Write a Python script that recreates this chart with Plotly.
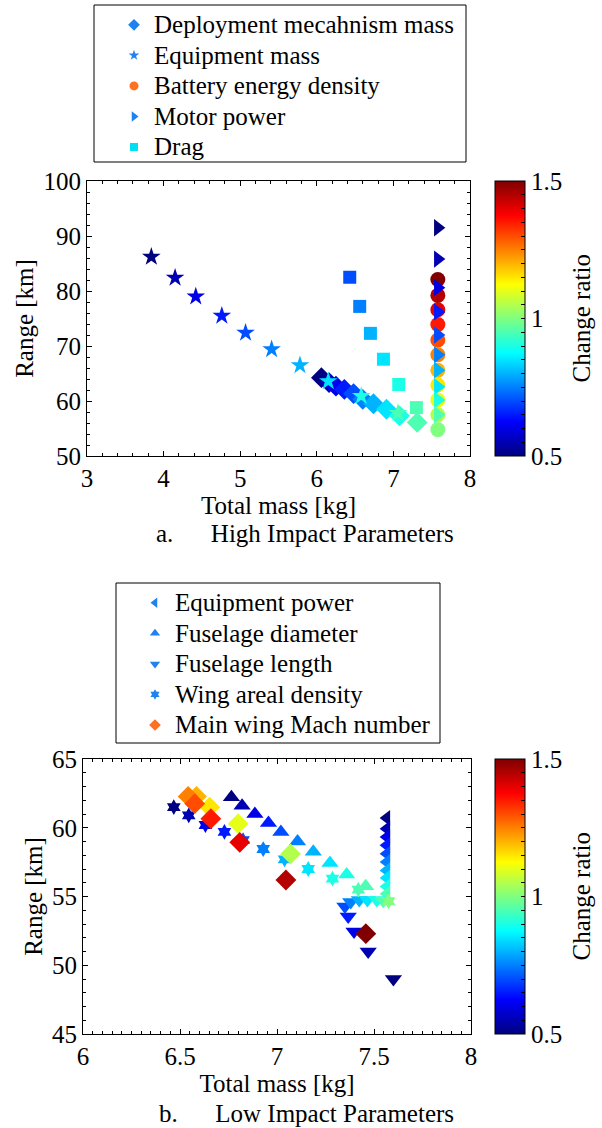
import plotly.graph_objects as go

W, H = 602, 1128
FONT = "Liberation Serif, Times New Roman, serif"

# ---------------- Data: a. High Impact Parameters ----------------
deploy_ratio = [0.5, 0.55, 0.6, 0.65, 0.7, 0.75, 0.8, 0.85, 0.9, 0.95]
deploy_mass = [6.06, 6.16, 6.25, 6.36, 6.48, 6.60, 6.74, 6.91, 7.08, 7.31]
deploy_range = [64.25, 63.35, 62.7, 62.1, 61.35, 60.3, 59.5, 58.5, 57.3, 56.1]

equip_ratio = [0.5, 0.55, 0.6, 0.65, 0.7, 0.75, 0.8, 0.85, 0.9, 0.95]
equip_mass = [3.84, 4.15, 4.42, 4.76, 5.07, 5.41, 5.78, 6.15, 6.58, 7.06]
equip_range = [86.2, 82.4, 79.0, 75.5, 72.4, 69.4, 66.5, 63.6, 60.9, 57.8]

battery_ratio = [1.0, 1.05, 1.1, 1.15, 1.2, 1.25, 1.3, 1.35, 1.4, 1.45, 1.5]
battery_mass = [7.58] * 11
battery_range = [54.8, 57.5, 60.2, 62.9, 65.6, 68.4, 71.1, 73.9, 76.6, 79.2, 82.1]

motor_ratio = [0.5, 0.55, 0.6, 0.65, 0.7, 0.75, 0.8, 0.85, 0.9, 0.95]
motor_mass = [7.58] * 10
motor_range = [91.5, 85.8, 80.6, 76.2, 72.0, 68.4, 65.6, 62.6, 60.2, 57.5]

drag_ratio = [0.7, 0.75, 0.8, 0.85, 0.9, 0.95]
drag_mass = [6.43, 6.56, 6.70, 6.87, 7.07, 7.30]
drag_range = [82.5, 77.2, 72.3, 67.6, 63.0, 58.8]

high_labels = ["Deployment mecahnism mass", "Equipment mass", "Battery energy density",
               "Motor power", "Drag"]

# ---------------- Data: b. Low Impact Parameters ----------------
eqpow_ratio = [0.5, 0.55, 0.6, 0.65, 0.7, 0.75, 0.8, 0.85, 0.9, 0.95]
eqpow_mass = [7.565] * 10
eqpow_range = [60.71, 59.93, 59.33, 58.72, 58.11, 57.51, 56.9, 56.35, 55.73, 55.2]

fdiam_ratio = [0.5, 0.55, 0.6, 0.65, 0.7, 0.75, 0.8, 0.85, 0.9, 0.95]
fdiam_mass = [6.765, 6.82, 6.886, 6.956, 7.02, 7.106, 7.187, 7.273, 7.359, 7.457]
fdiam_range = [62.21, 61.6, 61.0, 60.35, 59.7, 59.0, 58.26, 57.44, 56.6, 55.74]

flen_ratio = [0.5, 0.55, 0.6, 0.65, 0.7, 0.75, 0.8, 0.85, 0.9, 0.95]
flen_mass = [7.60, 7.47, 7.397, 7.367, 7.35, 7.38, 7.424, 7.466, 7.514, 7.548]
flen_range = [49.0, 51.0, 52.46, 53.55, 54.28, 54.6, 54.75, 54.75, 54.75, 54.7]

wing_ratio = [0.5, 0.55, 0.6, 0.65, 0.7, 0.75, 0.8, 0.85, 0.9, 0.95, 1.0]
wing_mass = [6.468, 6.545, 6.631, 6.729, 6.825, 6.929, 7.039, 7.161, 7.286, 7.419, 7.575]
wing_range = [61.5, 60.9, 60.2, 59.7, 59.1, 58.45, 57.7, 57.0, 56.3, 55.5, 54.65]

mach_ratio = [1.05, 1.1, 1.15, 1.2, 1.25, 1.3, 1.35, 1.4, 1.45, 1.5]
mach_mass = [7.07, 6.80, 6.653, 6.585, 6.542, 6.576, 6.659, 6.808, 7.046, 7.458]
mach_range = [58.1, 60.3, 61.5, 62.28, 62.28, 61.75, 60.66, 58.94, 56.2, 52.3]

low_labels = ["Equipment power", "Fuselage diameter", "Fuselage length",
              "Wing areal density", "Main wing Mach number"]

# colorbar tick labels
cb_tickvals = [0.5 + 0.05 * i for i in range(21)]
cb_ticktext = ["0.5" if i == 0 else "1" if i == 10 else "1.5" if i == 20 else "" for i in range(21)]

JET = [[0, "rgb(0,0,128)"], [0.125, "rgb(0,0,255)"], [0.375, "rgb(0,255,255)"],
       [0.625, "rgb(255,255,0)"], [0.875, "rgb(255,0,0)"], [1, "rgb(128,0,0)"]]

LEG_BLUE = "#1E82F0"
LEG_ORANGE = "#FF7020"
LEG_CYAN = "#00E0F0"

fig = go.Figure()


def add_series(x, y, c, symbol, size, xa, ya, cax):
    fig.add_trace(go.Scatter(
        x=x, y=y, mode="markers", showlegend=False, xaxis=xa, yaxis=ya,
        marker=dict(symbol=symbol, size=size, color=c, coloraxis=cax, line=dict(width=0)),
    ))


def add_legend_entry(name, symbol, color, legend, xa, ya, size=9):
    fig.add_trace(go.Scatter(
        x=[None], y=[None], mode="markers",
        name="<span style='font-size:25px'>" + name + "</span>",
        legend=legend, xaxis=xa, yaxis=ya,
        marker=dict(symbol=symbol, size=size, color=color, line=dict(width=0)),
    ))


# top plot series
add_series(deploy_mass, deploy_range, deploy_ratio, "diamond", 16, "x", "y", "coloraxis")
add_series(equip_mass, equip_range, equip_ratio, "star", 14, "x", "y", "coloraxis")
add_series(battery_mass, battery_range, battery_ratio, "circle", 15, "x", "y", "coloraxis")
add_series(motor_mass, motor_range, motor_ratio, "triangle-right", 15, "x", "y", "coloraxis")
add_series(drag_mass, drag_range, drag_ratio, "square", 13, "x", "y", "coloraxis")

add_legend_entry(high_labels[0], "diamond", LEG_BLUE, "legend", "x", "y")
add_legend_entry(high_labels[1], "star", LEG_BLUE, "legend", "x", "y", 8)
add_legend_entry(high_labels[2], "circle", LEG_ORANGE, "legend", "x", "y")
add_legend_entry(high_labels[3], "triangle-right", LEG_BLUE, "legend", "x", "y")
add_legend_entry(high_labels[4], "square", LEG_CYAN, "legend", "x", "y", 8)

# bottom plot series
add_series(eqpow_mass, eqpow_range, eqpow_ratio, "triangle-left", 14, "x2", "y2", "coloraxis2")
add_series(fdiam_mass, fdiam_range, fdiam_ratio, "triangle-up", 15, "x2", "y2", "coloraxis2")
add_series(flen_mass, flen_range, flen_ratio, "triangle-down", 15, "x2", "y2", "coloraxis2")
add_series(wing_mass, wing_range, wing_ratio, "hexagram", 12, "x2", "y2", "coloraxis2")
add_series(mach_mass, mach_range, mach_ratio, "diamond", 16, "x2", "y2", "coloraxis2")

add_legend_entry(low_labels[0], "triangle-left", LEG_BLUE, "legend2", "x2", "y2")
add_legend_entry(low_labels[1], "triangle-up", LEG_BLUE, "legend2", "x2", "y2")
add_legend_entry(low_labels[2], "triangle-down", LEG_BLUE, "legend2", "x2", "y2")
add_legend_entry(low_labels[3], "hexagram", LEG_BLUE, "legend2", "x2", "y2", 8)
add_legend_entry(low_labels[4], "diamond", LEG_ORANGE, "legend2", "x2", "y2")


def px_x(p):
    return p / W


def px_y(p):
    return 1 - p / H


FS = 25
font_t = dict(family=FONT, size=FS, color="black")
font_leg = dict(family=FONT, size=21.2, color="black")

axis_common = dict(
    showline=True, linecolor="black", linewidth=1, mirror="allticks",
    ticks="inside", ticklen=5, tickcolor="black", showgrid=False, zeroline=False,
    tickfont=font_t, automargin=False,
)


def cbar(ycenter_px):
    return dict(
        x=px_x(495), xanchor="left", xpad=0, ypad=0,
        y=px_y(ycenter_px), yanchor="middle",
        lenmode="pixels", len=275, thickness=30,
        outlinecolor="black", outlinewidth=1,
        tickmode="array", tickvals=cb_tickvals, ticktext=cb_ticktext,
        ticks="inside", ticklen=4, tickcolor="black",
        tickfont=font_t,
    )


fig.update_layout(
    template="none",
    width=W, height=H, margin=dict(l=0, r=0, t=0, b=0, autoexpand=False),
    paper_bgcolor="white", plot_bgcolor="white",
    font=font_t,
    xaxis=dict(domain=[px_x(87), px_x(470)], range=[3, 8], dtick=1, anchor="y",
               minor=dict(dtick=0.2, ticks="inside", ticklen=3, tickcolor="black"),
               title=dict(text="Total mass [kg]", font=font_t, standoff=0), **axis_common),
    yaxis=dict(domain=[px_y(456), px_y(181)], range=[50, 100], dtick=10, anchor="x",
               minor=dict(dtick=2, ticks="inside", ticklen=3, tickcolor="black"),
               title=dict(text="Range [km]", font=font_t, standoff=2), **axis_common),
    xaxis2=dict(domain=[px_x(83), px_x(471)], range=[6, 8], dtick=0.5, anchor="y2",
                minor=dict(dtick=0.05, ticks="inside", ticklen=3, tickcolor="black"),
                title=dict(text="Total mass [kg]", font=font_t, standoff=0), **axis_common),
    yaxis2=dict(domain=[px_y(1034), px_y(759)], range=[45, 65], dtick=5, anchor="x2",
                minor=dict(dtick=1, ticks="inside", ticklen=3, tickcolor="black"),
                title=dict(text="Range [km]", font=font_t, standoff=2), **axis_common),
    coloraxis=dict(colorscale=JET, cmin=0.5, cmax=1.5, colorbar=cbar(318.5)),
    coloraxis2=dict(colorscale=JET, cmin=0.5, cmax=1.5, colorbar=cbar(896.5)),
    legend=dict(x=px_x(114), xanchor="left", y=px_y(86), yanchor="middle",
                bgcolor="rgba(0,0,0,0)", borderwidth=0, font=font_leg,
                tracegroupgap=0, itemsizing="trace"),
    legend2=dict(x=px_x(135), xanchor="left", y=px_y(664), yanchor="middle",
                 bgcolor="rgba(0,0,0,0)", borderwidth=0, font=font_leg,
                 tracegroupgap=0, itemsizing="trace"),
    shapes=[
        dict(type="rect", xref="paper", yref="paper", x0=px_x(94), x1=px_x(466),
             y0=px_y(162), y1=px_y(5), line=dict(color="black", width=1)),
        dict(type="rect", xref="paper", yref="paper", x0=px_x(116), x1=px_x(440),
             y0=px_y(743), y1=px_y(583), line=dict(color="black", width=1)),
    ],
    annotations=[
        dict(text="Change ratio", textangle=-90, x=px_x(581), y=px_y(318.5),
             xref="paper", yref="paper", showarrow=False, font=font_t,
             xanchor="center", yanchor="middle"),
        dict(text="Change ratio", textangle=-90, x=px_x(581), y=px_y(896.5),
             xref="paper", yref="paper", showarrow=False, font=font_t,
             xanchor="center", yanchor="middle"),
        dict(text="a." + "\u00a0" * 6 + "High Impact Parameters", x=px_x(305), y=px_y(534),
             xref="paper", yref="paper", showarrow=False, font=font_t,
             xanchor="center", yanchor="middle"),
        dict(text="b." + "\u00a0" * 6 + "Low Impact Parameters", x=px_x(306), y=px_y(1113),
             xref="paper", yref="paper", showarrow=False, font=font_t,
             xanchor="center", yanchor="middle"),
    ],
)

fig.write_html("out.html", config={"displayModeBar": False},
               post_script="document.body.style.margin='0px';")
